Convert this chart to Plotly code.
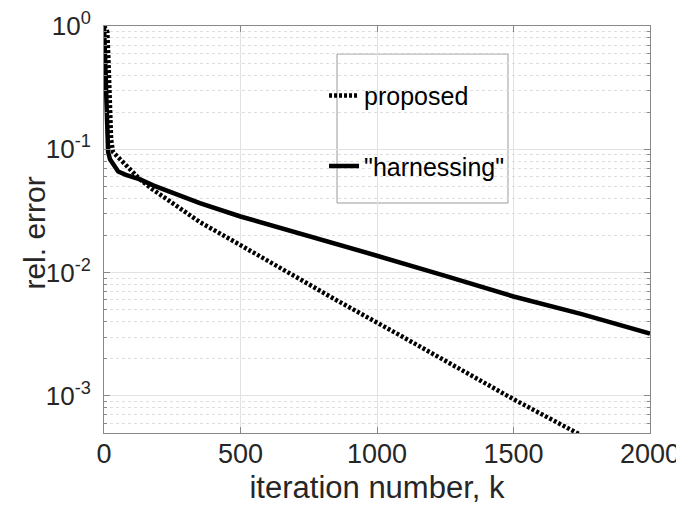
import plotly.graph_objects as go
import numpy as np

# proposed method (dotted)
k_proposed = [0, 12, 16, 19, 22, 26, 33, 50, 77, 132, 174, 260, 351, 500, 674, 850, 1084, 1300, 1500, 1740]
err_proposed = [1.0, 0.9, 0.55, 0.3, 0.17, 0.12, 0.095, 0.087, 0.075, 0.057, 0.048, 0.035, 0.0257, 0.0167,
                0.01, 0.006, 0.0031, 0.00166, 0.00094, 0.00049]

# "harnessing" (solid)
k_harness = [0, 3, 6, 9, 12, 15, 22, 35, 52, 80, 132, 180, 260, 351, 500, 750, 1000, 1250, 1500, 1750, 2000]
err_harness = [1.0, 0.6, 0.3, 0.16, 0.11, 0.095, 0.083, 0.074, 0.066, 0.062, 0.057, 0.051, 0.0436, 0.0366,
               0.0285, 0.0199, 0.0137, 0.0094, 0.0064, 0.0046, 0.0032]

x_ticks = [0, 500, 1000, 1500, 2000]
y_ticks = [1e-3, 1e-2, 1e-1, 1e0]
y_ticklabels = ["10<sup>-3</sup>", "10<sup>-2</sup>", "10<sup>-1</sup>", "10<sup>0</sup>"]

minor_y = [m * 10.0 ** e for e in (-4, -3, -2, -1) for m in range(2, 10)]
minor_y = [v for v in minor_y if 5e-4 <= v < 1]

FONT = "Liberation Sans, Arial, sans-serif"

# the page body adds an 8px offset; margins compensate so the plot area lands at x 104-650, y 26-433
fig = go.Figure()
fig.add_trace(go.Scatter(x=k_proposed, y=err_proposed, mode="lines", name="proposed",
                         legendgroup="a",
                         line=dict(color="black", width=4.5, dash="3px,2px")))
fig.add_trace(go.Scatter(x=k_harness, y=err_harness, mode="lines", name='"harnessing"',
                         legendgroup="b",
                         line=dict(color="black", width=4.5)))

fig.update_layout(
    width=684, height=512,
    margin=dict(l=96, r=42, t=18, b=87, autoexpand=False),
    paper_bgcolor="white", plot_bgcolor="white",
    font=dict(family=FONT, size=27, color="#262626"),
    showlegend=True,
    legend=dict(x=0.403, y=0.885, xanchor="left", yanchor="top",
                bgcolor="rgba(0,0,0,0)", borderwidth=0,
                font=dict(family=FONT, size=25, color="black"),
                tracegroupgap=35, itemwidth=30),
    shapes=[dict(type="rect", xref="paper", yref="paper",
                 x0=(337 - 104) / 546, x1=(508 - 104) / 546,
                 y0=(433 - 203) / 407, y1=(433 - 54) / 407,
                 line=dict(color="#9a9a9a", width=1), fillcolor="white", layer="below")],
    annotations=[dict(text="rel. error", textangle=-90, xref="paper", yref="paper",
                      x=-69 / 546, y=0.49, xanchor="center", yanchor="middle",
                      showarrow=False, font=dict(family=FONT, size=30, color="#262626"))],
)
fig.update_xaxes(range=[0, 2000], tickvals=x_ticks, ticks="inside", ticklen=6,
                 tickcolor="#888", showline=True, linecolor="#888", linewidth=1, mirror="ticks",
                 showgrid=True, gridcolor="#e2e2e2", gridwidth=1, zeroline=False,
                 automargin=False, ticklabelstandoff=-3, ticklabeloverflow="allow",
                 title=dict(text="iteration number, k", font=dict(size=31), standoff=7),
                 tickfont=dict(size=27))
fig.update_yaxes(type="log", range=[np.log10(5e-4), 0], tickvals=y_ticks, ticktext=y_ticklabels,
                 ticks="inside", ticklen=6, tickcolor="#888",
                 showline=True, linecolor="#888", linewidth=1, mirror="ticks",
                 showgrid=True, gridcolor="#e2e2e2", gridwidth=1, zeroline=False,
                 automargin=False, ticklabelstandoff=7, ticklabeloverflow="allow",
                 minor=dict(tickvals=minor_y, ticks="inside", ticklen=3, tickcolor="#888",
                            showgrid=True, gridcolor="#dedede", griddash="dot", gridwidth=1),
                 tickfont=dict(size=26))

fig.write_html("out.html")
